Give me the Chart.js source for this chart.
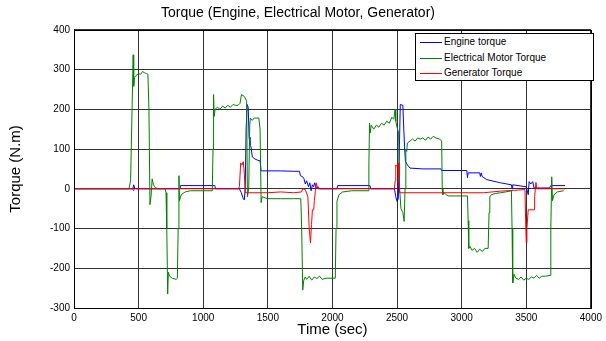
<!DOCTYPE html>
<html>
<head>
<meta charset="utf-8">
<script src="https://cdn.jsdelivr.net/npm/chart.js@4.4.1/dist/chart.umd.min.js"></script>
<style>
  html, body { margin: 0; padding: 0; background: #fff; }
  #wrap { position: relative; width: 606px; height: 341px; }
  #legend {
    position: absolute; left: 415px; top: 33px; width: 177px; height: 46px;
    border: 1px solid #000; background: #fff;
    font-family: Arial, "Liberation Sans", sans-serif; font-size: 10px; color: #000;
  }
  .row { position: absolute; left: 0; height: 14px; line-height: 14px; white-space: nowrap; }
  .row span.ln { position: absolute; left: 4px; top: 7px; width: 22px; height: 1px; }
  .row span.tx { position: absolute; left: 28px; top: 0; }
</style>
</head>
<body>
<div id="wrap">
  <canvas id="torqueChart" width="606" height="341"></canvas>
  <div id="legend">
    <div class="row" style="top:1px"><span class="ln" style="background:#0000ff"></span><span class="tx">Engine torque</span></div>
    <div class="row" style="top:17px"><span class="ln" style="background:#008000"></span><span class="tx">Electrical Motor Torque</span></div>
    <div class="row" style="top:32px"><span class="ln" style="background:#ff0000"></span><span class="tx">Generator Torque</span></div>
  </div>
</div>
<script>
const xTicks = [0, 500, 1000, 1500, 2000, 2500, 3000, 3500, 4000];
const yTicks = [-300, -200, -100, 0, 100, 200, 300, 400];

// Engine torque
const engineTime   = [0, 455, 462, 470, 480, 820, 825, 1090, 1095, 1280, 1295, 1310, 1318, 1325, 1332, 1340, 1348, 1355, 1362, 1370, 1380, 1400, 1420, 1440, 1448, 1500, 1600, 1700, 1745, 1752, 1770, 1780, 1790, 1800, 1815, 1825, 1835, 1845, 1855, 1862, 1875, 1890, 1900, 2035, 2040, 2290, 2298, 2480, 2490, 2500, 2510, 2518, 2525, 2545, 2552, 2558, 2565, 2580, 2600, 2700, 2840, 2845, 3040, 3045, 3050, 3140, 3145, 3152, 3158, 3195, 3300, 3385, 3390, 3395, 3500, 3515, 3522, 3535, 3550, 3560, 3680, 3690, 3800];
const engineTorque = [0, 0, 10, 2, 0, 0, 8, 8, 0, 0, -10, -25, -28, 0, 150, 212, 205, 130, 110, 105, 80, 75, 72, 70, 45, 45, 45, 44, 44, 33, 30, 25, 12, 20, 5, 15, -5, 10, 5, 15, 2, 5, 0, 0, 8, 8, 0, 0, -20, -32, -25, 100, 212, 210, 150, 107, 69, 60, 52, 50, 50, 46, 46, 28, 40, 40, 31, 40, 31, 23, 15, 10, 0, 10, 5, -15, 18, 12, 18, 2, 2, 8, 8];

// Electrical motor torque
const motorTime   = [0, 425, 438, 458, 462, 468, 480, 500, 515, 530, 545, 560, 572, 580, 588, 596, 605, 615, 630, 650, 705, 712, 718, 725, 730, 740, 760, 790, 800, 806, 812, 816, 830, 860, 900, 1070, 1076, 1080, 1085, 1092, 1110, 1130, 1150, 1170, 1190, 1210, 1230, 1250, 1270, 1285, 1296, 1320, 1336, 1342, 1352, 1360, 1365, 1380, 1395, 1430, 1440, 1448, 1455, 1470, 1500, 1600, 1700, 1755, 1762, 1770, 1778, 1790, 1800, 1820, 1840, 1860, 1880, 1900, 1920, 1950, 2000, 2022, 2028, 2035, 2050, 2080, 2150, 2278, 2282, 2287, 2292, 2300, 2320, 2340, 2360, 2380, 2400, 2420, 2440, 2460, 2475, 2485, 2490, 2500, 2512, 2520, 2530, 2545, 2555, 2562, 2568, 2575, 2580, 2600, 2620, 2640, 2660, 2680, 2700, 2720, 2740, 2760, 2780, 2800, 2830, 2845, 2850, 2855, 2865, 2880, 2900, 2950, 3000, 3045, 3050, 3055, 3065, 3080, 3100, 3120, 3140, 3160, 3180, 3205, 3212, 3218, 3230, 3260, 3300, 3340, 3385, 3390, 3395, 3405, 3420, 3440, 3460, 3480, 3500, 3520, 3540, 3560, 3580, 3600, 3620, 3650, 3685, 3690, 3697, 3703, 3715, 3740, 3790];
const motorTorque = [0, 0, 20, 337, 258, 280, 285, 290, 288, 295, 292, 290, 288, 200, -40, -20, 25, 10, 3, 0, 0, -10, -100, -265, -210, -220, -225, -228, -225, -100, 33, -30, -15, -8, -5, -5, 100, 237, 182, 200, 205, 200, 208, 203, 210, 205, 212, 210, 210, 215, 237, 232, 220, -20, 0, 160, 178, 172, 178, 178, 150, -35, -20, -22, -25, -25, -25, -25, -100, -255, -230, -222, -228, -220, -230, -222, -226, -220, -228, -225, -225, -225, -100, -32, -15, -8, -5, -5, 60, 165, 140, 160, 150, 160, 155, 165, 160, 170, 165, 180, 175, 200, 170, 155, 140, 0, -50, -60, -82, 0, 100, 94, 115, 120, 125, 120, 128, 125, 128, 122, 130, 125, 132, 128, 125, 120, 0, -15, -10, -15, -18, -18, -18, -18, -80, -150, -145, -155, -150, -160, -152, -158, -150, -150, -60, -20, -15, -12, -10, -8, -5, -100, -237, -215, -225, -228, -222, -230, -225, -228, -222, -225, -218, -225, -220, -220, -218, -100, 30, -30, -15, -8, -5];

// Generator torque
const genTime   = [0, 455, 460, 470, 1270, 1280, 1290, 1300, 1310, 1318, 1325, 1400, 1500, 1600, 1700, 1760, 1770, 1790, 1810, 1820, 1830, 1838, 1845, 1855, 1860, 1868, 1875, 1885, 2480, 2485, 2490, 2500, 2510, 2515, 2520, 3170, 3300, 3400, 3490, 3495, 3500, 3505, 3515, 3560, 3565, 3575, 3580, 3800];
const genTorque = [0, 0, -5, 0, 0, 5, 65, 60, 68, 40, -10, -10, -10, -8, -10, -8, 0, -2, -20, -100, -136, -90, -53, -53, -30, -5, 15, 0, 0, 20, 60, 56, 65, 30, -10, -10, -6, -4, -2, -80, -136, -100, -53, -53, -20, 16, 0, 0];

const toPoints = (ts, vs) => ts.map((t, i) => ({ x: t, y: vs[i] }));

const font = 'Arial, "Liberation Sans", sans-serif';

// black frame round the plot area (MATLAB box)
const boxPlugin = {
    id: 'box',
    afterDatasetsDraw(chart) {
        const { ctx, chartArea: a } = chart;
        ctx.save();
        ctx.strokeStyle = '#000';
        ctx.lineWidth = 1;
        ctx.strokeRect(Math.round(a.left) + 0.5, Math.round(a.top) + 0.5, Math.round(a.right - a.left), Math.round(a.bottom - a.top));
        ctx.restore();
    }
};

new Chart(document.getElementById('torqueChart'), {
    type: 'line',
    data: {
        datasets: [
            {
                label: 'Engine torque',
                data: toPoints(engineTime, engineTorque),
                borderColor: '#0000ff',
                borderWidth: 1,
                pointRadius: 0,
                order: 2,
            },
            {
                label: 'Electrical Motor Torque',
                data: toPoints(motorTime, motorTorque),
                borderColor: '#008000',
                borderWidth: 1,
                pointRadius: 0,
                order: 1,
            },
            {
                label: 'Generator Torque',
                data: toPoints(genTime, genTorque),
                borderColor: '#ff0000',
                borderWidth: 1,
                pointRadius: 0,
                order: 0,
            }
        ]
    },
    options: {
        responsive: false,
        animation: false,
        layout: { padding: { left: 0, right: 10, top: 0, bottom: 0 } },
        scales: {
            x: {
                type: 'linear',
                min: 0, max: 4000,
                afterBuildTicks: s => { s.ticks = xTicks.map(v => ({ value: v })); },
                afterFit: s => { s.height = 33; },
                grid: { color: '#333', drawTicks: false },
                border: { color: '#000' },
                ticks: { padding: 4, color: '#000', font: { family: font, size: 10 }, maxRotation: 0, callback: v => String(v) },
                title: { display: true, text: 'Time (sec)', color: '#000', font: { family: font, size: 15 }, padding: { top: 0, bottom: 2 } }
            },
            y: {
                min: -300, max: 400,
                afterBuildTicks: s => { s.ticks = yTicks.map(v => ({ value: v })); },
                afterFit: s => { s.width = 74; },
                grid: { color: '#333', drawTicks: false },
                border: { color: '#000' },
                ticks: { padding: 4, color: '#000', font: { family: font, size: 10 }, callback: v => String(v) },
                title: { display: true, text: 'Torque (N.m)', color: '#000', font: { family: font, size: 15 }, padding: { top: 7, bottom: 0 } }
            }
        },
        plugins: {
            legend: { display: false },
            tooltip: { enabled: false },
            title: {
                display: true,
                text: 'Torque (Engine, Electrical Motor, Generator)',
                color: '#000',
                font: { family: font, size: 14, weight: 'normal' },
                padding: { top: 5, bottom: 8 }
            }
        }
    },
    plugins: [boxPlugin]
});
</script>
</body>
</html>
